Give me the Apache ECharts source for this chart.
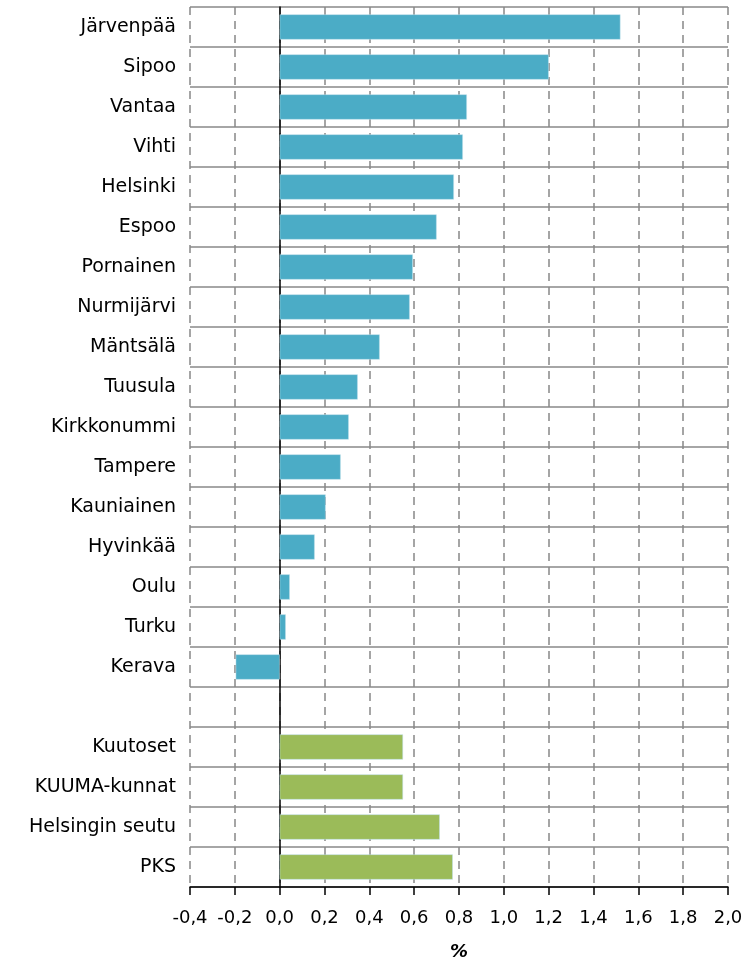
<!DOCTYPE html>
<html>
<head>
<meta charset="utf-8">
<script src="https://cdn.jsdelivr.net/npm/echarts@6/dist/echarts.min.js"></script>
<style>
html, body {margin:0; padding:0; background:#fff;}
#chart {width:744px; height:963px;}
</style>
</head>
<body>
<div id="chart"></div>
<script>
// kunnat + ryhmät, tyhjä rivi välissä
var categories = ['Järvenpää', 'Sipoo', 'Vantaa', 'Vihti', 'Helsinki', 'Espoo', 'Pornainen',
    'Nurmijärvi', 'Mäntsälä', 'Tuusula', 'Kirkkonummi', 'Tampere', 'Kauniainen', 'Hyvinkää',
    'Oulu', 'Turku', 'Kerava', '', 'Kuutoset', 'KUUMA-kunnat', 'Helsingin seutu', 'PKS'];
var municipalValues = [1.52, 1.20, 0.835, 0.817, 0.777, 0.70, 0.594, 0.58, 0.446, 0.348,
    0.308, 0.272, 0.205, 0.156, 0.045, 0.027, -0.196];
var groupValues = [0.55, 0.55, 0.714, 0.772];
var xTicks = [-0.4, 2.0];

var seriesData = [];
for (var i = 0; i < municipalValues.length; i++) {
    seriesData.push({value: municipalValues[i], itemStyle: {color: '#4BACC6'}});
}
seriesData.push({value: '-'});
for (var i = 0; i < groupValues.length; i++) {
    seriesData.push({value: groupValues[i], itemStyle: {color: '#9BBB59'}});
}

var myChart = echarts.init(document.getElementById('chart'));
var option = {
    backgroundColor: '#fff',
    animation: false,
    textStyle: {fontFamily: '"DejaVu Sans", sans-serif'},
    grid: {left: 190, right: 16, top: 7, bottom: 76, containLabel: false, outerBoundsMode: 'none'},
    xAxis: {
        type: 'value',
        min: xTicks[0],
        max: xTicks[1],
        interval: 0.2,
        name: '%',
        nameLocation: 'middle',
        nameGap: 56,
        nameTextStyle: {fontSize: 18, fontWeight: 'bold', fontStyle: 'italic', color: '#000'},
        axisLine: {show: true, onZero: false, lineStyle: {color: '#000', width: 1.5}},
        axisTick: {show: true, length: 8, lineStyle: {color: '#000', width: 1.5}},
        axisLabel: {
            fontSize: 18, color: '#000', margin: 22,
            formatter: function (v) { return v.toFixed(1).replace('.', ','); }
        },
        splitLine: {show: true, lineStyle: {color: '#888', type: [8, 6], width: 1.5}}
    },
    yAxis: {
        type: 'category',
        inverse: true,
        data: categories,
        axisLine: {show: true, onZero: true, lineStyle: {color: '#000', width: 1.5}},
        axisTick: {show: false},
        axisLabel: {fontSize: 19, color: '#000', margin: 14},
        splitLine: {show: true, lineStyle: {color: '#888', width: 1.5}}
    },
    series: [{
        type: 'bar',
        data: seriesData,
        barCategoryGap: '37%',
        itemStyle: {borderColor: '#b8dde8', borderWidth: 0.5}
    }]
};
myChart.setOption(option);
</script>
</body>
</html>
